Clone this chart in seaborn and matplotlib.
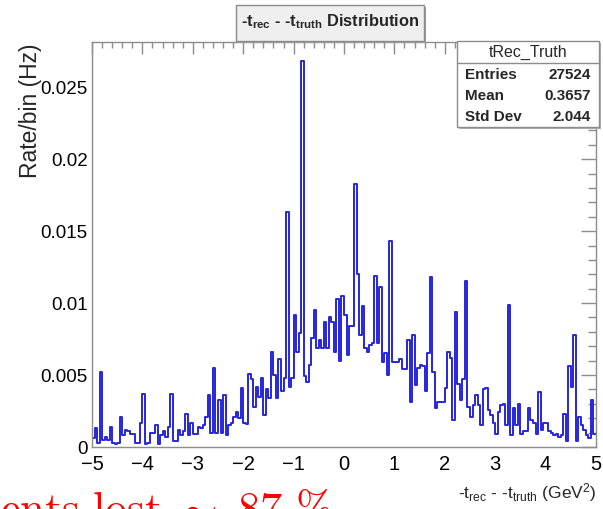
import numpy as np
import pandas as pd
import seaborn as sns
import matplotlib
matplotlib.use("Agg")
import matplotlib.pyplot as plt
from matplotlib.patches import Rectangle
from matplotlib.ticker import MultipleLocator

# ---- histogram definition: 200 bins on [-5, 5] ----
x_min, x_max, n_bins = -5.0, 5.0, 200

rate = [
    # -5.00 .. -3.35
    0.0006, 0.0013, 0.0003, 0.0052, 0.0005, 0.0007, 0.0005, 0.0014, 0.0003, 0.0002,
    0.0003, 0.0021, 0.0008, 0.0012, 0.0011, 0.0009, 0.0009, 0.0003, 0.0003, 0.0017,
    0.0037, 0.0002, 0.0003, 0.0010, 0.0010, 0.0015, 0.0002, 0.0008, 0.0011, 0.0007,
    0.0014, 0.0037, 0.0004, 0.0004,
    # -3.30 .. -1.70
    0.0012, 0.0008, 0.0011, 0.0023, 0.0008, 0.0017, 0.0009, 0.0009, 0.0014, 0.0013,
    0.0015, 0.0021, 0.0036, 0.0010, 0.0055, 0.0010, 0.0033, 0.0010, 0.0036, 0.0008,
    0.0015, 0.0017, 0.0021, 0.0024, 0.0020, 0.0041, 0.0017, 0.0016, 0.0051, 0.0047,
    0.0028, 0.0042,
    # -1.70 .. -0.80
    0.0035, 0.0048, 0.0022, 0.0040, 0.0034, 0.0066, 0.0050, 0.0034, 0.0061, 0.0039,
    0.0048, 0.0163, 0.0042, 0.0048, 0.0092, 0.0066, 0.0079, 0.0268,
    # -0.80 .. 0.25
    0.0049, 0.0045, 0.0057, 0.0076, 0.0095, 0.0069, 0.0074, 0.0069, 0.0087, 0.0069,
    0.0090, 0.0087, 0.0066, 0.0103, 0.0060, 0.0105, 0.0092, 0.0064, 0.0084, 0.0084,
    0.0183,
    # 0.25 .. 1.70
    0.0120, 0.0078, 0.0098, 0.0069, 0.0066, 0.0071, 0.0072, 0.0119, 0.0072, 0.0111,
    0.0059, 0.0065, 0.0050, 0.0143,
    0.0059, 0.0059, 0.0059, 0.0061, 0.0054, 0.0054, 0.0074, 0.0031, 0.0078, 0.0043,
    0.0055, 0.0057, 0.0056, 0.0039, 0.0065,
    # 1.70 .. 3.50
    0.0118, 0.0052, 0.0027, 0.0031, 0.0031, 0.0031, 0.0041, 0.0066, 0.0062, 0.0019,
    0.0094, 0.0044, 0.0033, 0.0047, 0.0115, 0.0028, 0.0021, 0.0029, 0.0036, 0.0029,
    0.0015, 0.0040, 0.0041, 0.0026, 0.0022, 0.0017, 0.0009, 0.0024, 0.0029, 0.0030,
    0.0015, 0.0099, 0.0008, 0.0027, 0.0015, 0.0030,
    # 3.50 .. 5.00
    0.0009, 0.0011, 0.0011, 0.0027, 0.0019, 0.0017, 0.0009, 0.0038, 0.0012, 0.0017,
    0.0017, 0.0011, 0.0010, 0.0008, 0.0009, 0.0007, 0.0008, 0.0023, 0.0004, 0.0056,
    0.0042, 0.0078, 0.0004, 0.0021, 0.0015, 0.0012, 0.0008, 0.0006, 0.0033, 0.0009,
]

stats_name = "tRec_Truth"
stats_rows = [("Entries", "27524"), ("Mean", "0.3657"), ("Std Dev", "2.044")]

x_ticks = [-5, -4, -3, -2, -1, 0, 1, 2, 3, 4, 5]
y_ticks = [0, 0.005, 0.01, 0.015, 0.02, 0.025]
y_tick_labels = ["0", "0.005", "0.01", "0.015", "0.02", "0.025"]

bin_width = (x_max - x_min) / n_bins
centers = x_min + bin_width * (np.arange(n_bins) + 0.5)
df = pd.DataFrame({"dt": centers, "rate": rate[:n_bins]})

sns.set_theme(style="white")
sans = "Liberation Sans"
plt.rcParams["font.family"] = [sans, "DejaVu Sans"]
plt.rcParams["mathtext.fontset"] = "custom"
plt.rcParams["mathtext.rm"] = sans
plt.rcParams["mathtext.it"] = sans
plt.rcParams["mathtext.bf"] = sans + ":bold"
plt.rcParams["axes.unicode_minus"] = True

W, H = 603, 509
fig = plt.figure(figsize=(W / 100, H / 100), dpi=100)


def fx(px):
    return px / W


def fy(py):
    return 1 - py / H


frame_l, frame_r, frame_t, frame_b = 92, 596, 42, 447
ax = fig.add_axes([fx(frame_l), fy(frame_b), fx(frame_r - frame_l), fy(frame_t) - fy(frame_b)])

sns.histplot(data=df, x="dt", weights="rate", binwidth=bin_width, binrange=(x_min, x_max),
             element="step", fill=False, color="#2626dc", linewidth=1.4, ax=ax)

peak = max(rate)
ax.set_xlim(x_min, x_max)
ax.set_ylim(0, peak * 1.05)

frame_col = "#8c8c8c"
for s in ax.spines.values():
    s.set_color(frame_col)
    s.set_linewidth(1.0)

ax.set_xticks(x_ticks)
ax.set_xticklabels([f"{t}" if t >= 0 else f"\u2212{abs(t)}" for t in x_ticks])
ax.xaxis.set_minor_locator(MultipleLocator(0.2))
ax.set_yticks(y_ticks)
ax.set_yticklabels(y_tick_labels)
ax.yaxis.set_minor_locator(MultipleLocator(0.001))

ax.tick_params(axis="both", which="both", direction="in", top=True, right=True,
               color=frame_col, width=1.0, labelcolor="black")
ax.tick_params(axis="x", which="major", length=8.6, pad=6, labelsize=14.5)
ax.tick_params(axis="x", which="minor", length=4.3)
ax.tick_params(axis="y", which="major", length=10.8, pad=3, labelsize=13.5)
ax.tick_params(axis="y", which="minor", length=5.6)

ax.set_xlabel("")
ax.set_ylabel("")

# axis titles in the pad
fig.text(fx(597), fy(493), r"-t$_{\mathrm{rec}}$ - -t$_{\mathrm{truth}}$ (GeV$^{2}$)",
         ha="right", va="center", fontsize=12.5)
fig.text(fx(31), fy(43), "Rate/bin (Hz)", rotation=90, ha="center", va="top", fontsize=16.5)

# title box
tb_l, tb_r, tb_t, tb_b = 236, 424, 5, 41
fig.patches.append(Rectangle((fx(tb_l + 2), fy(tb_b + 2)), fx(tb_r - tb_l), fy(tb_t) - fy(tb_b),
                             transform=fig.transFigure, facecolor="#9a9a9a", edgecolor="none", zorder=3))
fig.patches.append(Rectangle((fx(tb_l), fy(tb_b)), fx(tb_r - tb_l), fy(tb_t) - fy(tb_b),
                             transform=fig.transFigure, facecolor="#efefef", edgecolor="#8c8c8c",
                             linewidth=1.0, zorder=4))
fig.text(fx((tb_l + tb_r) / 2), fy(22),
         r"-t$_{\mathbf{rec}}$ - -t$_{\mathbf{truth}}$ Distribution",
         ha="center", va="center", fontsize=11.8, fontweight="bold", zorder=5)

# statistics box
sb_l, sb_r, sb_t, sb_b = 457, 599, 41, 127
fig.patches.append(Rectangle((fx(sb_l + 2), fy(sb_b + 2)), fx(sb_r - sb_l), fy(sb_t) - fy(sb_b),
                             transform=fig.transFigure, facecolor="#b0b0b0", edgecolor="none", zorder=3))
fig.patches.append(Rectangle((fx(sb_l), fy(sb_b)), fx(sb_r - sb_l), fy(sb_t) - fy(sb_b),
                             transform=fig.transFigure, facecolor="white", edgecolor="#8c8c8c",
                             linewidth=1.0, zorder=4))
fig.lines.append(plt.Line2D([fx(sb_l), fx(sb_r)], [fy(63), fy(63)], transform=fig.transFigure,
                            color="#8c8c8c", linewidth=1.0, zorder=5))
fig.text(fx((sb_l + sb_r) / 2), fy(52), stats_name, ha="center", va="center", fontsize=11.5, zorder=6)
for i, (k, v) in enumerate(stats_rows):
    yy = 75 + 21 * i
    fig.text(fx(sb_l + 8), fy(yy), k, ha="left", va="center", fontsize=11, fontweight="bold", zorder=6)
    fig.text(fx(sb_r - 8), fy(yy), v, ha="right", va="center", fontsize=11, fontweight="bold", zorder=6)

# slide caption running off the bottom edge
fig.text(fx(0), fy(523), r"$\mathrm{ents\ lost}\ \sim\ \mathrm{87\ \%}$", ha="left", va="baseline",
         fontsize=32, color="#ff0000", math_fontfamily="cm")

fig.savefig("out.png", dpi=100)
